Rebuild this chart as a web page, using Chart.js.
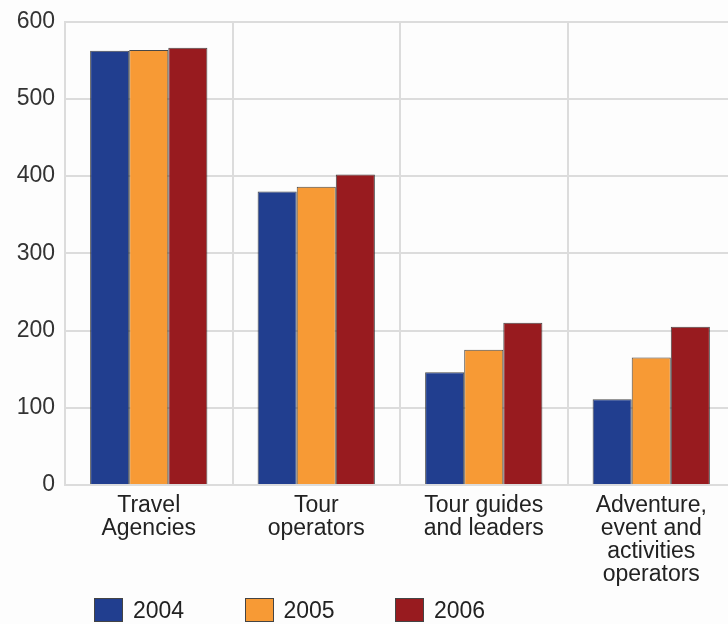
<!DOCTYPE html>
<html>
<head>
<meta charset="utf-8">
<script src="https://cdn.jsdelivr.net/npm/chart.js@4"></script>
<style>
    html, body { margin: 0; padding: 0; background: #fdfdfd; overflow: hidden; }
    #wrap { position: relative; width: 728px; height: 624px; overflow: hidden; }
    #chart { position: absolute; left: 0; top: 0; }
    #legend { position: absolute; left: 94px; top: 598px; display: flex; font-family: "Liberation Sans", Arial, sans-serif; font-size: 23px; line-height: 24px; color: #222; }
    .item { display: flex; align-items: center; width: 150.5px; }
    .swatch { width: 29px; height: 24px; border: 1px solid #444; box-sizing: border-box; margin-right: 10px; }
</style>
</head>
<body>
<div id="wrap">
    <canvas id="chart" width="735" height="624"></canvas>
    <div id="legend"></div>
</div>
<script>
// Dados
const categories = [
    ['Travel', 'Agencies'],
    ['Tour', 'operators'],
    ['Tour guides', 'and leaders'],
    ['Adventure,', 'event and', 'activities', 'operators']
];
const years = ['2004', '2005', '2006'];
const values2004 = [562, 380, 146, 111];
const values2005 = [563, 386, 175, 165];
const values2006 = [566, 402, 210, 205];
const yTicks = [0, 100, 200, 300, 400, 500, 600];

const colors = ['#213e8f', '#f79a35', '#981b1f'];
const FONT = '"Liberation Sans", Arial, sans-serif';

const datasets = [values2004, values2005, values2006].map((vals, i) => ({
    label: years[i],
    data: vals,
    backgroundColor: colors[i],
    borderColor: 'rgba(40,40,40,0.85)',
    borderWidth: 1,
    barPercentage: 1.0,
    categoryPercentage: 0.7
}));

new Chart(document.getElementById('chart'), {
    type: 'bar',
    data: { labels: categories, datasets: datasets },
    options: {
        responsive: false,
        animation: false,
        layout: { padding: { left: 0, top: 20, right: 0, bottom: 29 } },
        plugins: {
            legend: { display: false },
            tooltip: { enabled: false }
        },
        scales: {
            x: {
                grid: { color: '#dcdcdc', lineWidth: 2, drawTicks: false, offset: true },
                border: { color: '#dcdcdc', width: 2 },
                ticks: {
                    autoSkip: false,
                    maxRotation: 0,
                    padding: 9,
                    color: '#222',
                    font: { family: FONT, size: 23, lineHeight: '23px' }
                }
            },
            y: {
                min: yTicks[0],
                max: yTicks[yTicks.length - 1],
                afterBuildTicks: (axis) => { axis.ticks = yTicks.map(v => ({ value: v })); },
                afterFit: (axis) => { axis.width = 65; },
                grid: { color: '#dcdcdc', lineWidth: 2, drawTicks: false },
                border: { color: '#dcdcdc', width: 2 },
                ticks: {
                    padding: 10,
                    color: '#333',
                    font: { family: FONT, size: 23, lineHeight: 1 }
                }
            }
        }
    }
});

// Legenda em HTML (itens gerados dos datasets)
document.getElementById('legend').innerHTML = datasets.map(ds => `
    <div class="item"><span class="swatch" style="background:${ds.backgroundColor}"></span>${ds.label}</div>
`).join('');
</script>
</body>
</html>
